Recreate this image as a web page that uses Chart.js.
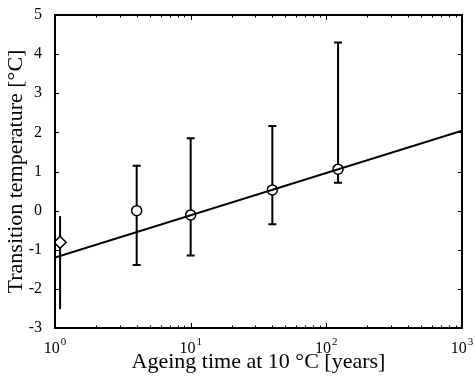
<!DOCTYPE html>
<html>
<head>
<meta charset="utf-8">
<script src="https://cdn.jsdelivr.net/npm/chart.js@4"></script>
<style>
  html, body { margin: 0; padding: 0; background: #fff; }
  canvas { display: block; }
</style>
</head>
<body>
<canvas id="chart" width="475" height="382"></canvas>
<script>
// ---- data ----
const ageYears = [4, 10, 40, 122];
const transTemp = [0.0, -0.11, 0.53, 1.06];
const transLow = [-1.39, -1.15, -0.35, 0.71];
const transHigh = [1.15, 1.85, 2.16, 4.3];

const refAge = [1.09];
const refTemp = [-0.81];
const refLow = [-2.52];
const refHigh = [-0.14];

const fitAge = [1, 1000];
const fitTemp = [-1.2, 2.04];

const xTickValues = [1, 10, 100, 1000];
const xTickBase = "10";
const xTickExponents = ["0", "1", "2", "3"];
const yMin = -3, yMax = 5;

const serif = "'Liberation Serif', 'Times New Roman', serif";

// error bars, ticks, x labels and frame
const matlabPlugin = {
    id: "matlab",
    beforeDatasetsDraw(chart) {
        const ctx = chart.ctx;
        const xs = chart.scales.x, ys = chart.scales.y;
        ctx.save();
        ctx.strokeStyle = "#000";
        ctx.lineWidth = 2;
        // circles: bars with caps
        ageYears.forEach((a, i) => {
            const px = xs.getPixelForValue(a);
            const top = ys.getPixelForValue(transHigh[i]);
            const bot = ys.getPixelForValue(transLow[i]);
            ctx.beginPath();
            ctx.moveTo(px, top); ctx.lineTo(px, bot);
            ctx.moveTo(px - 4, top); ctx.lineTo(px + 4, top);
            ctx.moveTo(px - 4, bot); ctx.lineTo(px + 4, bot);
            ctx.stroke();
        });
        // diamond: bar without caps
        refAge.forEach((a, i) => {
            const px = xs.getPixelForValue(a);
            ctx.beginPath();
            ctx.moveTo(px, ys.getPixelForValue(refHigh[i]));
            ctx.lineTo(px, ys.getPixelForValue(refLow[i]));
            ctx.stroke();
        });
        ctx.restore();
    },
    afterDraw(chart) {
        const ctx = chart.ctx;
        const a = chart.chartArea;
        const xs = chart.scales.x, ys = chart.scales.y;
        ctx.save();
        ctx.strokeStyle = "#000";
        ctx.lineWidth = 1;
        ctx.beginPath();
        // y ticks, inward on both sides
        for (let v = yMin; v <= yMax; v++) {
            const py = Math.round(ys.getPixelForValue(v)) + 0.5;
            ctx.moveTo(a.left, py); ctx.lineTo(a.left + 4, py);
            ctx.moveTo(a.right, py); ctx.lineTo(a.right - 4, py);
        }
        // x ticks, major and minor
        for (let d = 1; d < 1000; d *= 10) {
            for (let m = 1; m <= 9; m++) {
                const px = Math.round(xs.getPixelForValue(d * m)) + 0.5;
                const len = m === 1 ? 5 : 2.5;
                ctx.moveTo(px, a.bottom); ctx.lineTo(px, a.bottom - len);
                ctx.moveTo(px, a.top); ctx.lineTo(px, a.top + len);
            }
        }
        ctx.stroke();
        ctx.lineWidth = 2;
        ctx.strokeRect(a.left, a.top, a.right - a.left, a.bottom - a.top);

        // x tick labels as 10 with superscript exponent
        ctx.fillStyle = "#000";
        ctx.textBaseline = "alphabetic";
        ctx.textAlign = "left";
        xTickValues.forEach((v, i) => {
            const px = xs.getPixelForValue(v);
            ctx.font = "16px " + serif;
            const wb = ctx.measureText(xTickBase).width;
            ctx.font = "11px " + serif;
            const we = ctx.measureText(xTickExponents[i]).width;
            const x0 = px - (wb + we + 1) / 2;
            ctx.font = "16px " + serif;
            ctx.fillText(xTickBase, x0, a.bottom + 25);
            ctx.font = "11px " + serif;
            ctx.fillText(xTickExponents[i], x0 + wb + 1, a.bottom + 17);
        });
        ctx.restore();
    }
};

new Chart(document.getElementById("chart"), {
    type: "scatter",
    data: {
        datasets: [
            {
                type: "line",
                data: fitAge.map((x, i) => ({ x, y: fitTemp[i] })),
                borderColor: "#000",
                borderWidth: 2,
                pointRadius: 0
            },
            {
                data: ageYears.map((x, i) => ({ x, y: transTemp[i] })),
                pointStyle: "circle",
                pointRadius: 5,
                backgroundColor: "#fff",
                borderColor: "#000",
                borderWidth: 1.5
            },
            {
                data: refAge.map((x, i) => ({ x, y: refTemp[i] })),
                pointStyle: "rectRot",
                pointRadius: 6,
                backgroundColor: "#fff",
                borderColor: "#000",
                borderWidth: 1.5
            }
        ]
    },
    options: {
        responsive: false,
        animation: false,
        layout: { padding: { top: 15, right: 13 } },
        plugins: { legend: { display: false }, tooltip: { enabled: false } },
        scales: {
            x: {
                type: "logarithmic",
                min: 1,
                max: 1000,
                grid: { display: false },
                border: { display: false },
                afterBuildTicks: s => { s.ticks = xTickValues.map(v => ({ value: v })); },
                afterFit: s => { s.height = 54; s.paddingLeft = 0; s.paddingRight = 0; },
                ticks: { display: false },
                title: {
                    display: true,
                    text: "Ageing time at 10 \u00B0C [years]",
                    color: "#000",
                    font: { family: serif, size: 22 },
                    padding: { top: 0, bottom: 7 }
                }
            },
            y: {
                min: yMin,
                max: yMax,
                grid: { display: false },
                border: { display: false },
                afterFit: s => { s.width = 55; s.paddingTop = 0; s.paddingBottom = 0; },
                ticks: {
                    stepSize: 1,
                    padding: 5,
                    color: "#000",
                    font: { family: serif, size: 16 }
                },
                title: {
                    display: true,
                    text: "Transition temperature [\u00B0C]",
                    color: "#000",
                    font: { family: serif, size: 22 },
                    padding: { top: 3, bottom: 0 }
                }
            }
        }
    },
    plugins: [matlabPlugin]
});
</script>
</body>
</html>
